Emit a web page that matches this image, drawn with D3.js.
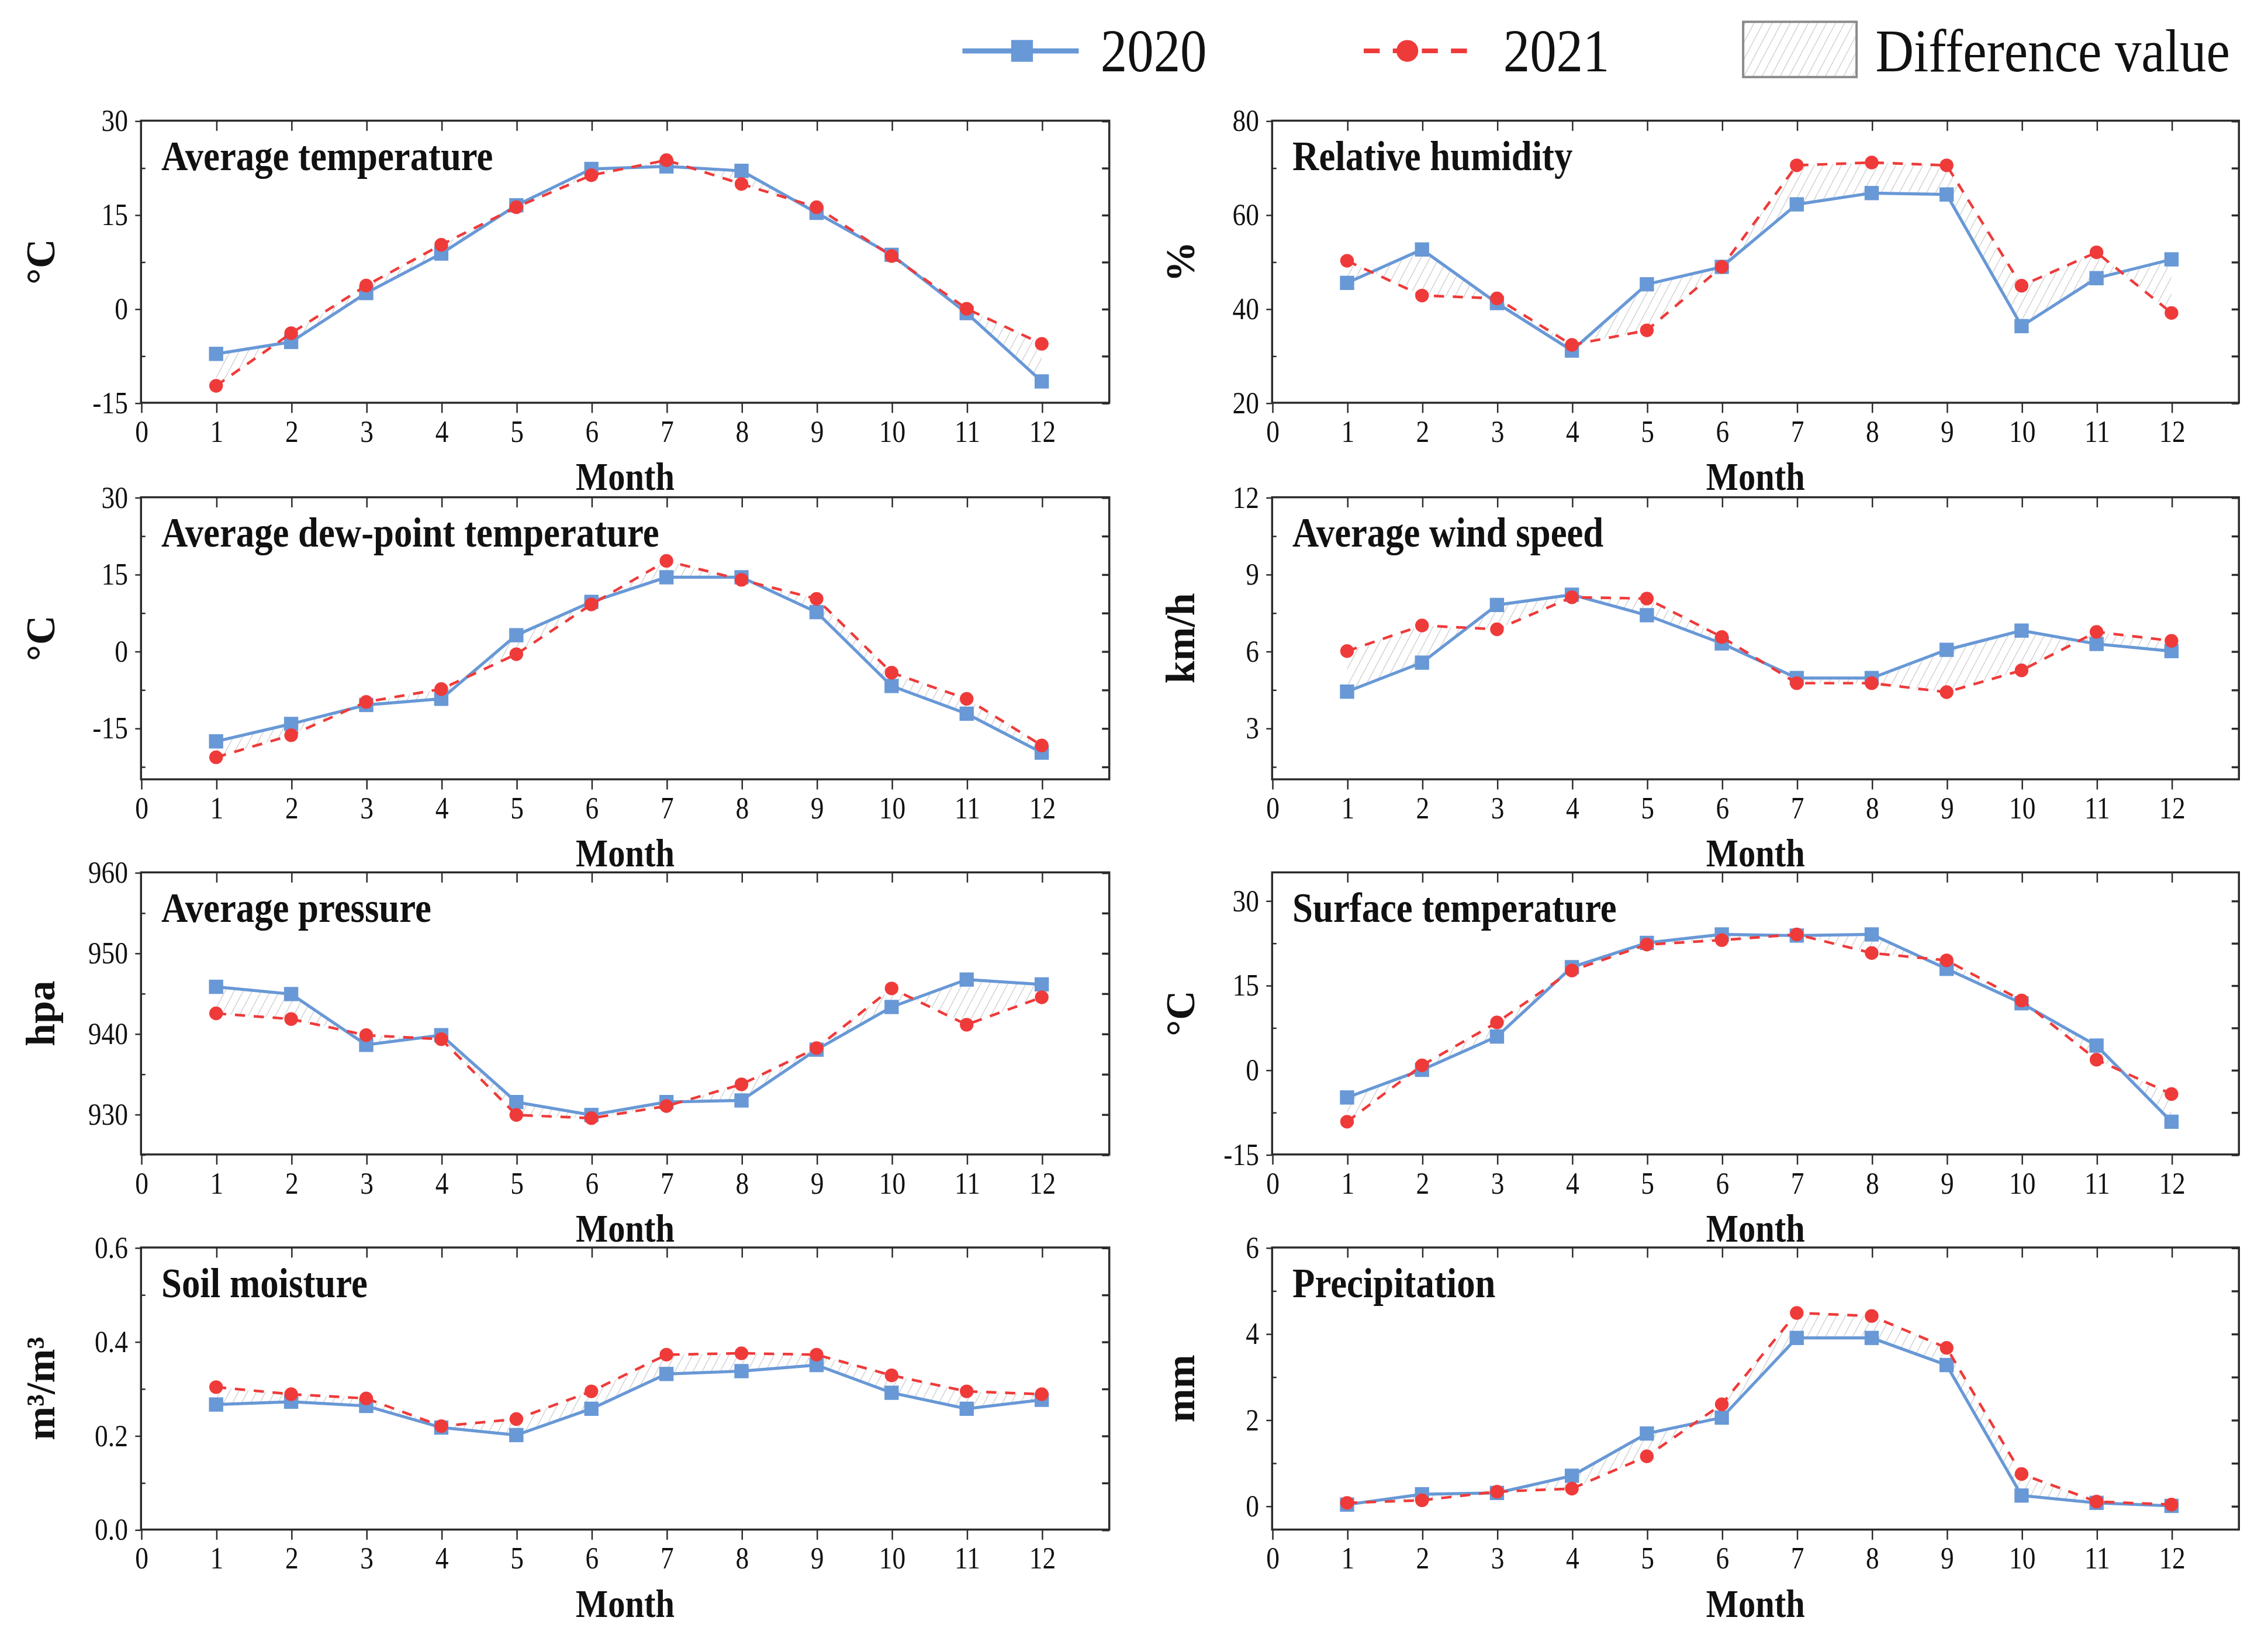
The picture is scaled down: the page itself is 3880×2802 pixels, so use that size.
<!DOCTYPE html>
<html>
<head>
<meta charset="utf-8">
<script src="https://cdn.jsdelivr.net/npm/d3@7"></script>
<style>
html,body{margin:0;padding:0;background:#fff;}
svg{display:block;}
text{font-family:"Liberation Serif","Times New Roman",serif;fill:#111;}
</style>
</head>
<body>
<script>
// ---------- DATA ----------
const months = [1,2,3,4,5,6,7,8,9,10,11,12];
const xTicks = [0,1,2,3,4,5,6,7,8,9,10,11,12];

const temp2020 = [-7.2,-5.3,2.5,8.8,16.5,22.3,22.7,22.0,15.3,8.6,-0.7,-11.6];
const temp2021 = [-12.3,-3.9,3.7,10.2,16.2,21.3,23.7,19.9,16.2,8.4,0.0,-5.6];

const rh2020 = [45.5,52.6,41.2,31.1,45.2,48.9,62.2,64.6,64.3,36.3,46.5,50.5];
const rh2021 = [50.2,42.8,42.2,32.3,35.4,48.9,70.5,71.1,70.5,44.9,52.0,39.1];

const dew2020 = [-17.6,-14.2,-10.5,-9.3,3.1,9.6,14.4,14.4,7.6,-6.8,-12.2,-19.8];
const dew2021 = [-20.7,-16.4,-9.9,-7.4,-0.6,9.1,17.6,13.9,10.2,-4.2,-9.3,-18.4];

const wind2020 = [4.42,5.55,7.8,8.2,7.4,6.3,4.95,4.95,6.05,6.8,6.28,6.0];
const wind2021 = [6.0,7.0,6.85,8.1,8.05,6.55,4.75,4.75,4.4,5.25,6.75,6.4];

const pres2020 = [945.8,944.9,938.6,939.8,931.5,929.9,931.5,931.7,938.0,943.3,946.7,946.1];
const pres2021 = [942.5,941.8,939.8,939.3,929.9,929.5,931.0,933.7,938.2,945.6,941.1,944.5];

const surf2020 = [-4.9,0.0,5.9,18.2,22.5,24.0,23.8,24.0,17.9,11.8,4.3,-9.2];
const surf2021 = [-9.2,0.8,8.4,17.6,22.2,23.0,24.0,20.7,19.4,12.3,1.8,-4.3];

const soil2020 = [0.266,0.272,0.263,0.217,0.201,0.257,0.331,0.337,0.350,0.291,0.257,0.276];
const soil2021 = [0.303,0.288,0.279,0.220,0.235,0.294,0.372,0.375,0.372,0.328,0.294,0.288];

const prec2020 = [0.03,0.27,0.30,0.70,1.68,2.05,3.90,3.90,3.27,0.24,0.07,0.00];
const prec2021 = [0.07,0.13,0.33,0.40,1.15,2.36,4.48,4.41,3.67,0.74,0.10,0.03];

const panelTitles = ["Average temperature","Relative humidity","Average dew-point temperature","Average wind speed","Average pressure","Surface temperature","Soil moisture","Precipitation"];
const yUnits = ["°C","%","°C","km/h","hpa","°C","m³/m³","mm"];
const yDomains = [[-15,30],[20,80],[-25,30],[1,12],[925,960],[-15,35],[0,0.6],[-0.55,6]];
const yTicks = [[-15,0,15,30],[20,40,60,80],[-15,0,15,30],[3,6,9,12],[930,940,950,960],[-15,0,15,30],[0,0.2,0.4,0.6],[0,2,4,6]];
const yTickLabels = [["-15","0","15","30"],["20","40","60","80"],["-15","0","15","30"],["3","6","9","12"],["930","940","950","960"],["-15","0","15","30"],["0.0","0.2","0.4","0.6"],["0","2","4","6"]];
const series2020 = [temp2020,rh2020,dew2020,wind2020,pres2020,surf2020,soil2020,prec2020];
const series2021 = [temp2021,rh2021,dew2021,wind2021,pres2021,surf2021,soil2021,prec2021];
const legendLabels = ["2020","2021","Difference value"];
const xLabel = "Month";

// ---------- LAYOUT / STYLE ----------
const W = 3880, H = 2802;
const S = W / 1560;           // work in 1560-wide units
const COND = 0.87;            // condensed text
const BLUE = "#6898d6", RED = "#ef3a3a", AX = "#2b2b2b";
const colX = [[97,763],[875,1540]];
const rowTop = [83,342,600,858];
const plotH = 194;
const xDomain = [0,12.9];

const svg = d3.select("body").append("svg").attr("width",W).attr("height",H);
svg.append("rect").attr("width",W).attr("height",H).attr("fill","#fff");
const defs = svg.append("defs");
const pat = defs.append("pattern").attr("id","hatch").attr("patternUnits","userSpaceOnUse")
  .attr("width",5.5).attr("height",5.5).attr("patternTransform","rotate(28)");
pat.append("line").attr("x1",0).attr("y1",-1).attr("x2",0).attr("y2",7)
  .attr("stroke","#c4c4c4").attr("stroke-width",0.9);

const root = svg.append("g").attr("transform",`scale(${S})`);

function txt(g,x,y,str,size,opt={}){
  const t = g.append("text")
    .attr("transform",`translate(${x},${y}) scale(${opt.rot?1:COND},1)${opt.rot?" rotate(-90)":""}`)
    .attr("font-size",size)
    .attr("font-weight",opt.bold?"bold":"normal")
    .attr("text-anchor",opt.anchor||"start")
    .attr("dominant-baseline",opt.base||"auto")
    .text(str);
  return t;
}

function styleAxis(g){
  g.select(".domain").remove();
  g.selectAll(".tick line").attr("stroke",AX).attr("stroke-width",1);
}

series2020.forEach((s20,i)=>{
  const s21 = series2021[i];
  const col = i%2, row = Math.floor(i/2);
  const L = colX[col][0], R = colX[col][1], T = rowTop[row], B = T+plotH;
  const x = d3.scaleLinear().domain(xDomain).range([L,R]);
  const y = d3.scaleLinear().domain(yDomains[i]).range([B,T]);
  const g = root.append("g");
  const data = months.map((m,k)=>({m, a:s20[k], b:s21[k]}));

  // hatched difference
  g.append("path").datum(data)
    .attr("d", d3.area().x(d=>x(d.m)).y0(d=>y(d.a)).y1(d=>y(d.b)))
    .attr("fill","url(#hatch)").attr("stroke","none");

  // minor ticks
  const tv = yTicks[i], step = tv[1]-tv[0];
  const dom = yDomains[i];
  const minors = d3.range(tv[0]-step*3, tv[tv.length-1]+step*3+1e-9, step/2)
    .map(v=>+v.toFixed(6)).filter(v=>v>=dom[0]-1e-9 && v<=dom[1]+1e-9);
  const minorOnly = minors.filter(v=>!tv.some(t=>Math.abs(t-v)<1e-9));

  // axes
  const bx = g.append("g").attr("transform",`translate(0,${B})`)
    .call(d3.axisBottom(x).tickValues(xTicks).tickSizeInner(7).tickSizeOuter(0).tickPadding(5));
  styleAxis(bx);
  bx.selectAll(".tick text").attr("font-size",21).attr("fill","#111")
    .attr("font-family",'"Liberation Serif","Times New Roman",serif')
    .attr("transform",`scale(${COND},1)`);

  const tx = g.append("g").attr("transform",`translate(0,${T})`)
    .call(d3.axisTop(x).tickValues(xTicks.slice(1)).tickSizeInner(-7).tickSizeOuter(0).tickFormat(""));
  styleAxis(tx);

  const ly = g.append("g").attr("transform",`translate(${L},0)`)
    .call(d3.axisLeft(y).tickValues(tv).tickSizeInner(4).tickSizeOuter(0).tickPadding(5)
      .tickFormat((d,k)=>yTickLabels[i][k]));
  styleAxis(ly);
  ly.selectAll(".tick text").attr("font-size",21).attr("fill","#111")
    .attr("font-family",'"Liberation Serif","Times New Roman",serif')
    .attr("x",-9/COND).attr("transform",`scale(${COND},1)`);

  const lym = g.append("g").attr("transform",`translate(${L},0)`)
    .call(d3.axisLeft(y).tickValues(minorOnly).tickSizeInner(-3).tickSizeOuter(0).tickFormat(""));
  styleAxis(lym);

  const ry = g.append("g").attr("transform",`translate(${R},0)`)
    .call(d3.axisRight(y).tickValues(minors).tickSizeInner(-5).tickSizeOuter(0).tickFormat(""));
  styleAxis(ry);
  ry.selectAll(".tick line").attr("stroke-width",1.4);

  // frame
  g.append("rect").attr("x",L).attr("y",T).attr("width",R-L).attr("height",B-T)
    .attr("fill","none").attr("stroke",AX).attr("stroke-width",1.4);

  // 2020 line
  g.append("path").datum(data)
    .attr("d", d3.line().x(d=>x(d.m)).y(d=>y(d.a)))
    .attr("fill","none").attr("stroke",BLUE).attr("stroke-width",2.1);
  g.selectAll(".sq").data(data).enter().append("rect")
    .attr("x",d=>x(d.m)-4.9).attr("y",d=>y(d.a)-4.9)
    .attr("width",9.8).attr("height",9.8).attr("fill",BLUE);

  // 2021 line
  g.append("path").datum(data)
    .attr("d", d3.line().x(d=>x(d.m)).y(d=>y(d.b)))
    .attr("fill","none").attr("stroke",RED).attr("stroke-width",1.8)
    .attr("stroke-dasharray","7,6");
  g.selectAll(".ci").data(data).enter().append("circle")
    .attr("cx",d=>x(d.m)).attr("cy",d=>y(d.b)).attr("r",4.7).attr("fill",RED);

  // texts
  txt(g, L+14, T+34, panelTitles[i], 29, {bold:true});
  txt(g, (L+R)/2, B+60, xLabel, 27, {bold:true, anchor:"middle"});
  const ylx = col===0 ? 28 : 812;
  txt(g, ylx, (T+B)/2, yUnits[i], 28, {bold:true, anchor:"middle", base:"central", rot:true});
});

// ---------- LEGEND ----------
const lg = root.append("g");
const ly0 = 35;
lg.append("line").attr("x1",662).attr("x2",742).attr("y1",ly0).attr("y2",ly0)
  .attr("stroke",BLUE).attr("stroke-width",3.5);
lg.append("rect").attr("x",703-7.5).attr("y",ly0-7.5).attr("width",15).attr("height",15).attr("fill",BLUE);
txt(lg, 757, ly0, legendLabels[0], 42, {base:"central"});

lg.append("line").attr("x1",938).attr("x2",1012).attr("y1",ly0).attr("y2",ly0)
  .attr("stroke",RED).attr("stroke-width",3.2).attr("stroke-dasharray","11,9");
lg.append("circle").attr("cx",968).attr("cy",ly0).attr("r",7.5).attr("fill",RED);
txt(lg, 1034, ly0, legendLabels[1], 42, {base:"central"});

lg.append("rect").attr("x",1199).attr("y",15).attr("width",78).attr("height",38)
  .attr("fill","url(#hatch)").attr("stroke","#8a8a8a").attr("stroke-width",1.6);
txt(lg, 1290, ly0, legendLabels[2], 42, {base:"central"});
</script>
</body>
</html>
